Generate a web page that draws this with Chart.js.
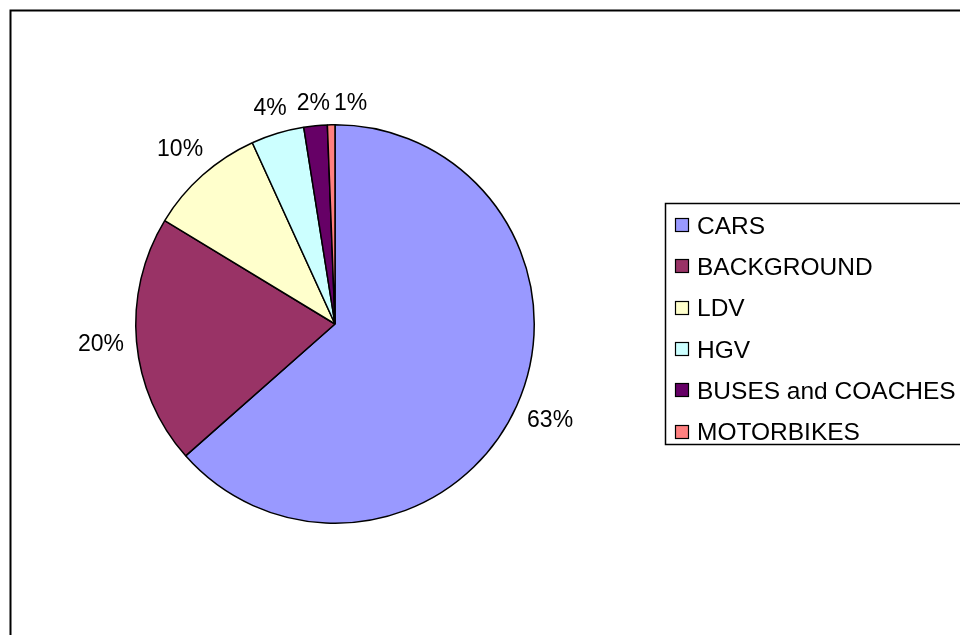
<!DOCTYPE html>
<html><head><meta charset="utf-8">
<script src="https://cdn.jsdelivr.net/npm/chart.js@4/dist/chart.umd.min.js"></script>
<style>html,body{margin:0;padding:0;background:#fff;overflow:hidden;} canvas{display:block;}</style>
</head><body>
<canvas id="c" width="960" height="635"></canvas>
<script>
const categories = ['CARS', 'BACKGROUND', 'LDV', 'HGV', 'BUSES and COACHES', 'MOTORBIKES'];
const shares = [63.49, 20.2, 9.5, 4.3, 1.9, 0.61];
const sliceColors = ['#9999FF', '#993366', '#FFFFCC', '#CCFFFF', '#660066', '#FF8080'];
const FONT = '"Liberation Sans", Arial, sans-serif';

const framePlugin = {
  id: 'frame',
  beforeDraw(chart) {
    const ctx = chart.ctx;
    ctx.save();
    ctx.fillStyle = '#fff';
    ctx.fillRect(0, 0, chart.width, chart.height);
    ctx.strokeStyle = '#000';
    ctx.lineWidth = 2;
    ctx.strokeRect(10.5, 10.5, chart.width + 20, chart.height + 20);
    ctx.restore();
  }
};

const labelPlugin = {
  id: 'pctLabels',
  afterDatasetsDraw(chart) {
    const ctx = chart.ctx;
    const meta = chart.getDatasetMeta(0);
    const vals = chart.data.datasets[0].data;
    const total = vals.reduce((a, b) => a + b, 0);
    ctx.save();
    ctx.font = '23px ' + FONT;
    ctx.fillStyle = '#000';
    ctx.textAlign = 'center';
    ctx.textBaseline = 'middle';
    const h = 18, gap = 12;
    let prev = null;
    meta.data.forEach((arc, i) => {
      const p = arc.getProps(['x', 'y', 'startAngle', 'endAngle', 'outerRadius'], true);
      const mid = (p.startAngle + p.endAngle) / 2;
      const cx = Math.cos(mid), sy = Math.sin(mid);
      const txt = Math.round(vals[i] / total * 100) + '%';
      const w = ctx.measureText(txt).width;
      const d = p.outerRadius + gap + Math.abs(cx) * w / 2 + Math.abs(sy) * h / 2;
      let lx = p.x + cx * d;
      let ly = p.y + sy * d;
      if (prev && Math.abs(ly - prev.y) < h && lx - w / 2 < prev.x + prev.w / 2 + 4) {
        lx = prev.x + prev.w / 2 + 4 + w / 2;
      }
      ctx.fillText(txt, lx, ly);
      prev = { x: lx, y: ly, w: w };
    });
    ctx.restore();
  }
};

const legendPlugin = {
  id: 'boxLegend',
  afterDraw(chart) {
    const ctx = chart.ctx;
    const labels = chart.data.labels;
    const colors = chart.data.datasets[0].backgroundColor;
    const bx = 665.5, by = 203.5, bh = 241;
    ctx.save();
    ctx.strokeStyle = '#000';
    ctx.lineWidth = 1.5;
    ctx.strokeRect(bx, by, 400, bh);
    ctx.font = '24.5px ' + FONT;
    ctx.textAlign = 'left';
    ctx.textBaseline = 'alphabetic';
    const y0 = 225, step = 41.3;
    labels.forEach((lab, i) => {
      const cy = y0 + i * step;
      ctx.fillStyle = colors[i];
      ctx.fillRect(675, Math.round(cy - 7), 14, 14);
      ctx.lineWidth = 1.2;
      ctx.strokeStyle = '#000';
      ctx.strokeRect(675.5, Math.round(cy - 7) + 0.5, 13, 13);
      ctx.fillStyle = '#000';
      ctx.fillText(lab, 697, cy + 8.8);
    });
    ctx.restore();
  }
};

new Chart(document.getElementById('c'), {
  type: 'pie',
  data: {
    labels: categories,
    datasets: [{
      data: shares,
      backgroundColor: sliceColors,
      borderColor: '#000',
      borderWidth: 1.5
    }]
  },
  options: {
    responsive: false,
    animation: false,
    layout: { padding: { left: 135, right: 425, top: 124, bottom: 111 } },
    plugins: { legend: { display: false }, tooltip: { enabled: false } }
  },
  plugins: [framePlugin, labelPlugin, legendPlugin]
});
</script>
</body></html>
